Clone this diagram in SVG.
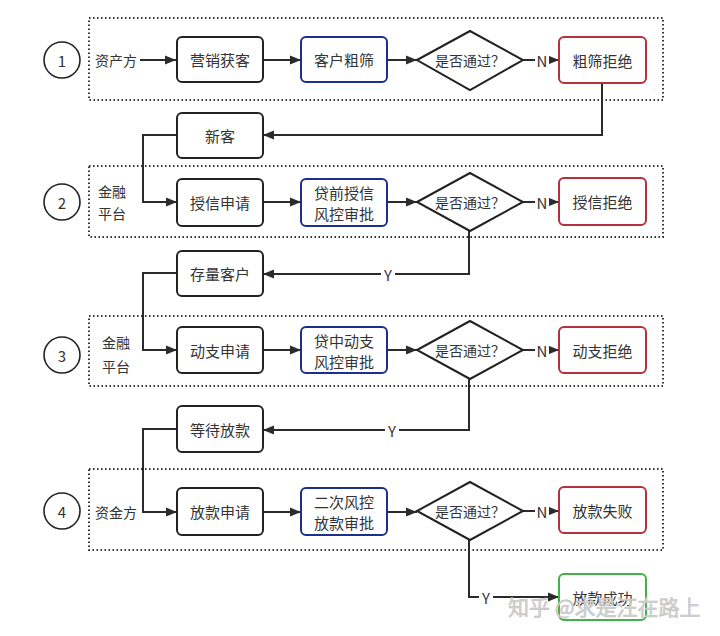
<svg xmlns="http://www.w3.org/2000/svg" width="720" height="636" viewBox="0 0 720 636">
<defs>
<marker id="ah" viewBox="0 0 10 10" refX="10" refY="5" markerWidth="5.5" markerHeight="5.5" orient="auto" markerUnits="strokeWidth">
<path d="M0,1 L10,5 L0,9 z" fill="#2b2b2b"/>
</marker>
<style>
text{font-family:"Noto Sans CJK SC","Liberation Sans",sans-serif;fill:#333;font-size:15px;text-anchor:middle;dominant-baseline:central}
.grp{fill:none;stroke:#333;stroke-width:2;stroke-dasharray:1.5,2.5}
.num{fill:#fff;stroke:#222;stroke-width:1.6}
.box{fill:#fff;stroke:#222;stroke-width:2}
.blue{fill:#fff;stroke:#1c2f8c;stroke-width:2}
.red{fill:#fff;stroke:#b3303d;stroke-width:2}
.green{fill:#fff;stroke:#43b04a;stroke-width:2}
.dia{fill:#fff;stroke:#222;stroke-width:2}
.ln{fill:none;stroke:#2b2b2b;stroke-width:2}
.lab{fill:#fff}
.side{text-anchor:start;font-size:14px}
.q{font-size:14px}
.wm{font-size:21px;fill:#d4d4d4;stroke:#bdbdbd;stroke-width:0.5;text-anchor:start}
</style>
</defs>
<rect width="720" height="636" fill="#fff"/>

<g id="groups">
<rect class="grp" x="89" y="18" width="574" height="82"/>
<rect class="grp" x="89" y="166" width="574" height="71"/>
<rect class="grp" x="89" y="316" width="574" height="70"/>
<rect class="grp" x="89" y="469" width="574" height="81"/>
</g>

<g id="connectors">
<path class="ln" d="M140,60 H176" marker-end="url(#ah)"/>
<path class="ln" d="M263,60 H301" marker-end="url(#ah)"/>
<path class="ln" d="M387,60 H417" marker-end="url(#ah)"/>
<path class="ln" d="M523,60 H559" marker-end="url(#ah)"/>
<path class="ln" d="M602,83 V135 H263" marker-end="url(#ah)"/>
<path class="ln" d="M177,135 H143 V202 H177" marker-end="url(#ah)"/>
<path class="ln" d="M263,202 H301" marker-end="url(#ah)"/>
<path class="ln" d="M387,202 H417" marker-end="url(#ah)"/>
<path class="ln" d="M523,202 H559" marker-end="url(#ah)"/>
<path class="ln" d="M469,231 V274 H263" marker-end="url(#ah)"/>
<path class="ln" d="M177,273 H143 V350 H177" marker-end="url(#ah)"/>
<path class="ln" d="M263,350 H301" marker-end="url(#ah)"/>
<path class="ln" d="M387,350 H417" marker-end="url(#ah)"/>
<path class="ln" d="M523,350 H559" marker-end="url(#ah)"/>
<path class="ln" d="M469,379 V430 H263" marker-end="url(#ah)"/>
<path class="ln" d="M177,429 H143 V512 H177" marker-end="url(#ah)"/>
<path class="ln" d="M263,512 H301" marker-end="url(#ah)"/>
<path class="ln" d="M387,512 H417" marker-end="url(#ah)"/>
<path class="ln" d="M523,511 H559" marker-end="url(#ah)"/>
<path class="ln" d="M469,540 V597 H559" marker-end="url(#ah)"/>
<rect class="lab" x="535" y="51" width="14" height="18"/><text x="542" y="60">N</text>
<rect class="lab" x="535" y="193" width="14" height="18"/><text x="542" y="202">N</text>
<rect class="lab" x="535" y="341" width="14" height="18"/><text x="542" y="350">N</text>
<rect class="lab" x="535" y="502" width="14" height="18"/><text x="542" y="511">N</text>
<rect class="lab" x="381" y="265" width="14" height="18"/><text x="388" y="274">Y</text>
<rect class="lab" x="385" y="421" width="14" height="18"/><text x="392" y="430">Y</text>
<rect class="lab" x="479" y="588" width="14" height="18"/><text x="486" y="597">Y</text>
</g>

<g id="row1">
<g id="c1"><circle class="num" cx="62" cy="60" r="18"/><text x="62" y="60">1</text></g>
<text class="side" x="95" y="60">资产方</text>
<g id="yingxiao"><rect class="box" x="177" y="37" width="86" height="45" rx="5"/><text x="220" y="59.5">营销获客</text></g>
<g id="cushai"><rect class="blue" x="301" y="37" width="86" height="45" rx="5"/><text x="344" y="59.5">客户粗筛</text></g>
<g id="d1"><path class="dia" d="M417,60 L470,31 L523,60 L470,90 z"/><text class="q" x="470" y="60">是否通过？</text></g>
<g id="cushaijujue"><rect class="red" x="559" y="37" width="87" height="46" rx="5"/><text x="602.5" y="60">粗筛拒绝</text></g>
</g>

<g id="xinke"><rect class="box" x="177" y="113" width="86" height="45" rx="5"/><text x="220" y="135.5">新客</text></g>

<g id="row2">
<g id="c2"><circle class="num" cx="62" cy="202" r="18"/><text x="62" y="202">2</text></g>
<text class="side" x="98" y="191">金融</text><text class="side" x="98" y="213">平台</text>
<g id="shouxin"><rect class="box" x="177" y="179" width="86" height="47" rx="5"/><text x="220" y="202.5">授信申请</text></g>
<g id="daiqian"><rect class="blue" x="301" y="179" width="86" height="47" rx="5"/><text x="344" y="192">贷前授信</text><text x="344" y="213">风控审批</text></g>
<g id="d2"><path class="dia" d="M417,202 L470,173 L523,202 L470,231 z"/><text class="q" x="470" y="202">是否通过？</text></g>
<g id="shouxinjujue"><rect class="red" x="559" y="178" width="87" height="47" rx="5"/><text x="602.5" y="201.5">授信拒绝</text></g>
</g>

<g id="cunliang"><rect class="box" x="177" y="251" width="86" height="45" rx="5"/><text x="220" y="273.5">存量客户</text></g>

<g id="row3">
<g id="c3"><circle class="num" cx="62" cy="355" r="18"/><text x="62" y="355">3</text></g>
<text class="side" x="102" y="342">金融</text><text class="side" x="102" y="366">平台</text>
<g id="dongzhi"><rect class="box" x="177" y="327" width="86" height="46" rx="5"/><text x="220" y="350">动支申请</text></g>
<g id="daizhong"><rect class="blue" x="301" y="327" width="86" height="46" rx="5"/><text x="344" y="340">贷中动支</text><text x="344" y="361">风控审批</text></g>
<g id="d3"><path class="dia" d="M417,350 L470,321 L523,350 L470,379 z"/><text class="q" x="470" y="350">是否通过？</text></g>
<g id="dongzhijujue"><rect class="red" x="559" y="327" width="87" height="46" rx="5"/><text x="602.5" y="350">动支拒绝</text></g>
</g>

<g id="dengdai"><rect class="box" x="177" y="406" width="86" height="46" rx="5"/><text x="220" y="429">等待放款</text></g>

<g id="row4">
<g id="c4"><circle class="num" cx="62" cy="511" r="18"/><text x="62" y="511">4</text></g>
<text class="side" x="95" y="512">资金方</text>
<g id="fangkuan"><rect class="box" x="177" y="488" width="86" height="47" rx="5"/><text x="220" y="511.5">放款申请</text></g>
<g id="erci"><rect class="blue" x="301" y="488" width="86" height="47" rx="5"/><text x="344" y="501">二次风控</text><text x="344" y="522">放款审批</text></g>
<g id="d4"><path class="dia" d="M417,511 L470,482 L523,511 L470,540 z"/><text class="q" x="470" y="511">是否通过？</text></g>
<g id="shibai"><rect class="red" x="559" y="487" width="87" height="46" rx="5"/><text x="602.5" y="510">放款失败</text></g>
</g>

<g id="chenggong"><rect class="green" x="559" y="574" width="87" height="46" rx="5"/><text x="602.5" y="597">放款成功</text></g>

<text class="wm" x="508" y="606">知乎 @求是汪在路上</text>
</svg>
